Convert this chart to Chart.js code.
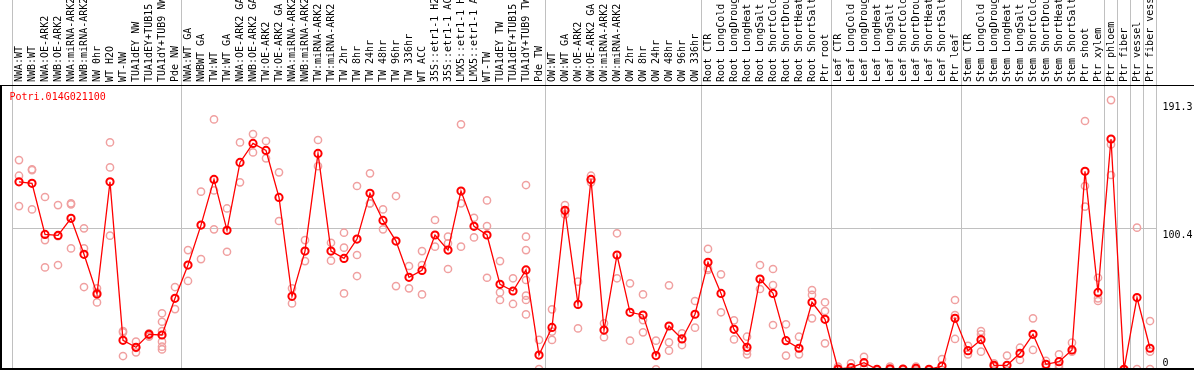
<!DOCTYPE html>
<html><head><meta charset="utf-8">
<script src="https://cdn.jsdelivr.net/npm/chart.js@4"></script>
<style>
html,body{margin:0;padding:0;background:#fff;overflow:hidden;}
#wrap{position:relative;width:1194px;height:370px;}
#frame{position:absolute;left:0;top:85px;width:1194px;height:285px;box-sizing:border-box;border-left:2px solid #000;border-top:1px solid #000;border-bottom:2px solid #000;pointer-events:none;}
</style></head><body>
<div id="wrap"><canvas id="c" width="1194" height="370"></canvas><div id="frame"></div></div>
<script>
const geneName = 'Potri.014G021100';

const categories = [
  'NWA:WT','NWB:WT','NWA:OE-ARK2','NWB:OE-ARK2','NWA:miRNA-ARK2','NWB:miRNA-ARK2','NW 0hr','WT H2O','WT-NW','TUA1dEY NW','TUA1dEY+TUB15 NW','TUA1dY+TUB9 NW','Pde NW',
  'NWA:WT GA','NWBWT GA','TW:WT','TW:WT GA','NWA:OE-ARK2 GA','NWB:OE-ARK2 GA','TW:OE-ARK2','TW:OE-ARK2 GA','NWA:miRNA-ARK2 GA','NWB:miRNA-ARK2 GA','TW:miRNA-ARK2','TW:miRNA-ARK2 GA',
  'TW 2hr','TW 8hr','TW 24hr','TW 48hr','TW 96hr','TW 336hr','WT ACC','35S::etr1-1 H2O','35S::etr1-1 ACC','LMX5::etr1-1 H2O','LMX5::etr1-1 ACC','WT-TW','TUA1dEY TW','TUA1dEY+TUB15 TW','TUA1dY+TUB9 TW','Pde TW',
  'OW:WT','OW:WT GA','OW:OE-ARK2','OW:OE-ARK2 GA','OW:miRNA-ARK2','OW:miRNA-ARK2 GA','OW 2hr','OW 8hr','OW 24hr','OW 48hr','OW 96hr','OW 336hr',
  'Root CTR','Root LongCold','Root LongDrought','Root LongHeat','Root LongSalt','Root ShortCold','Root ShortDrought','Root ShortHeat','Root ShortSalt','Ptr root',
  'Leaf CTR','Leaf LongCold','Leaf LongDrought','Leaf LongHeat','Leaf LongSalt','Leaf ShortCold','Leaf ShortDrought','Leaf ShortHeat','Leaf ShortSalt','Ptr leaf',
  'Stem CTR','Stem LongCold','Stem LongDrought','Stem LongHeat','Stem LongSalt','Stem ShortCold','Stem ShortDrought','Stem ShortHeat','Stem ShortSalt','Ptr shoot','Ptr xylem',
  'Ptr phloem','Ptr fiber','Ptr vessel','Ptr fiber vessel'
];

// index of first category of each sample group (88 = end)
const groupStarts = [0, 13, 41, 53, 63, 73, 84, 85, 86, 87, 88];

const meanValues = [
  133.4,132.3,96.1,95.4,107.5,82.0,53.9,133.4,21.0,16.1,25.3,24.8,50.8,
  74.4,102.7,135.1,99.0,147.1,160.6,155.6,122.3,52.2,84.3,153.5,84.3,
  79.1,92.8,125.2,106.0,91.4,65.7,70.6,95.7,85.0,126.8,101.8,95.7,60.7,56.0,70.9,10.6,
  30.2,113.2,46.5,135.1,28.3,81.5,40.9,39.0,10.2,31.2,22.0,39.5,
  76.3,54.3,28.8,16.1,64.5,54.3,20.8,15.4,48.0,35.9,
  0.7,1.7,5.2,0.5,0.9,0.7,1.2,0.5,2.8,36.6,
  13.7,21.5,3.3,3.3,11.8,25.3,4.0,5.9,14.2,140.8,55.0,
  163.7,0.5,51.3,15.4
];

const replicateValues = [
  [148.8,137.7,116.2],[142.2,141.7,113.8],[122.6,92.1,72.7],[116.9,94.9,74.4],[118.1,117.4,86.2],
  [100.4,86.2,58.8],[57.9,55.0,47.9],[161.3,143.6,95.2],[27.6,26.7,9.9],[20.1,15.7,12.5],
  [26.0,24.3,23.6],[40.2,34.2,27.6,20.1,16.5,14.6],[58.8,43.2],
  [85.0,63.1],[126.4,78.6],[177.6,127.3,99.7],[114.5,83.8],[161.3,133.0],[167.2,154.2],[162.3,150.0],
  [140.1,105.6],[57.9,47.2],[92.1,77.2],[163.0,144.5],[90.2,77.5],
  [97.3,86.7,54.3],[130.4,81.5,66.6],[139.4,118.1,118.0],[113.8,99.7],[123.3,59.5],[73.7,57.9],
  [84.3,74.4,53.6],[106.3,87.4],[94.5,89.8,71.6],[174.1,118.1,87.4],[107.9,94.0],[120.2,102.0,65.4],
  [77.2,55.0,49.6],[65.0,46.8],[131.1,94.5,85.0,63.8,52.7,49.6,39.4],[21.3,0.7],
  [43.0,27.2,21.3],[116.9,112.5,110.3],[62.6,29.5],[137.7,134.7,133.0],[33.1,23.2],[96.9,65.0],
  [61.4,20.8],[53.6,35.4,26.7],[20.8,0.5],[60.0,19.6,13.7],[26.0,17.7],[48.9,30.0],
  [85.8,72.1,71.0],[67.8,40.9],[35.2,21.7],[23.6,13.6,11.1],[74.4,57.4],[71.6,60.2,31.9],
  [32.4,10.2],[23.6,11.1],[56.7,53.2,36.6],[48.0,41.8,18.9],
  [2.4,0],[4.7,0],[9.4,1.2],[0,0],[2.4,0],[0.7,0],[2.4,0],[0,0],[7.8,0],[49.6,39.0,22.0],
  [17.2,11.1],[27.6,25.3,13.0],[4.7,2.4],[10.2,0],[15.8,7.1],[36.6,14.2],[6.4,1.7],[11.1,3.5,1.7],
  [19.4,13.0],[176.5,130.4,115.8],[65.4,50.8,48.9],
  [191.3,159.9,138.2],[0.5,0],[100.9,0.7],[34.7,13.0,0.7]
];

const yTickValues = [0, 100.4, 191.3];

const GRAY = 'rgb(192,192,192)';
const CLEAR = 'rgba(0,0,0,0)';
const MONO = 'DejaVu Sans Mono';
const REP_COLOR = 'rgb(240,160,160)';

const replicatePoints = replicateValues.flatMap((vals, i) => vals.map(v => ({ x: i, y: v })));

const titlePlugin = {
  id: 'geneTitle',
  afterDraw(chart) {
    const { ctx, chartArea } = chart;
    ctx.save();
    ctx.font = '10px "' + MONO + '"';
    ctx.fillStyle = '#ff0000';
    ctx.textAlign = 'left';
    ctx.textBaseline = 'middle';
    ctx.fillText(geneName, chartArea.left - 3, chartArea.top + 12);
    ctx.restore();
  }
};

function noPad(s) { s.paddingTop = 0; s.paddingBottom = 0; s.paddingLeft = 0; s.paddingRight = 0; }

new Chart(document.getElementById('c'), {
  type: 'line',
  data: {
    labels: categories,
    datasets: [
      {
        label: 'mean',
        data: meanValues,
        xAxisID: 'x',
        borderColor: '#ff0000',
        borderWidth: 1.3,
        pointRadius: 3.6,
        pointHoverRadius: 3.6,
        pointBorderWidth: 2,
        pointBorderColor: '#ff0000',
        pointBackgroundColor: CLEAR,
        tension: 0,
        fill: false
      },
      {
        label: 'replicates',
        data: replicatePoints,
        xAxisID: 'xv',
        showLine: false,
        borderColor: REP_COLOR,
        pointRadius: 3.6,
        pointHoverRadius: 3.6,
        pointBorderWidth: 1.5,
        pointBorderColor: REP_COLOR,
        pointBackgroundColor: CLEAR
      }
    ]
  },
  options: {
    responsive: false,
    animation: false,
    devicePixelRatio: 1,
    layout: { autoPadding: false, padding: { left: 12.5, right: 0, top: 0, bottom: 0 } },
    plugins: { legend: { display: false }, tooltip: { enabled: false }, title: { display: false } },
    scales: {
      x: {
        type: 'category',
        position: 'top',
        offset: true,
        border: { display: false },
        grid: {
          offset: true,
          drawOnChartArea: true,
          drawTicks: true,
          tickLength: 85,
          lineWidth: 1,
          color: (ctx) => (ctx.index === undefined || groupStarts.includes(ctx.index)) ? GRAY : CLEAR
        },
        ticks: {
          autoSkip: false,
          minRotation: 90,
          maxRotation: 90,
          padding: -82,
          labelOffset: 12,
          color: '#000',
          font: { family: MONO, size: 10, lineHeight: 1.2 }
        },
        afterFit: (s) => { s.height = 85; noPad(s); }
      },
      xv: {
        type: 'linear',
        display: false,
        min: -0.5,
        max: categories.length - 0.5
      },
      y: {
        position: 'right',
        min: 0,
        max: 202,
        border: { display: false },
        afterBuildTicks: (s) => { s.ticks = yTickValues.map(v => ({ value: v })); },
        grid: {
          drawTicks: false,
          tickLength: 0,
          color: (ctx) => (ctx.tick && ctx.tick.value === 100.4) ? GRAY : CLEAR
        },
        ticks: {
          padding: 6,
          color: '#000',
          font: { family: MONO, size: 10, lineHeight: 1.4 },
          callback: (v) => v === 0 ? ['0', ''] : ['', String(v)]
        },
        afterFit: (s) => { s.width = 37.5; noPad(s); }
      }
    }
  },
  plugins: [titlePlugin]
});
</script>
</body></html>
